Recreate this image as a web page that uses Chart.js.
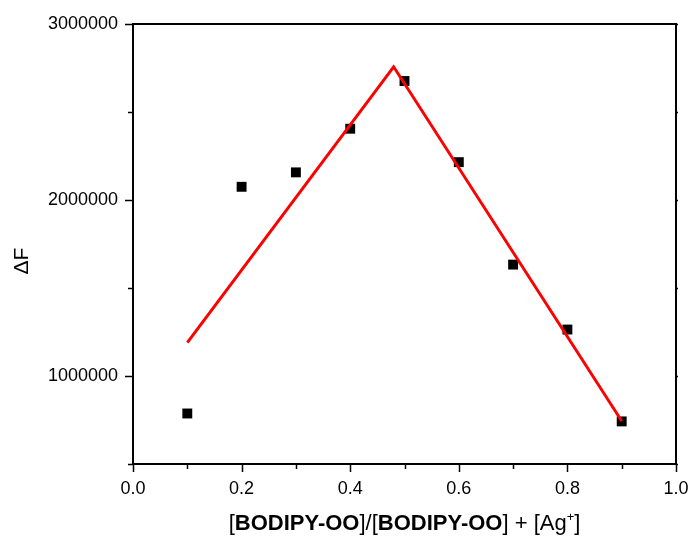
<!DOCTYPE html>
<html>
<head>
<meta charset="UTF-8">
<title>ΔF vs mole fraction</title>
<script src="https://cdn.jsdelivr.net/npm/chart.js@4.4.0/dist/chart.umd.min.js"></script>
<style>
  body { margin: 0; background: #fff; }
  canvas { display: block; }
</style>
</head>
<body>
<canvas id="job" width="691" height="538"></canvas>
<script>
// mole fraction of BODIPY-OO and the measured fluorescence change
const fractions = [0.1, 0.2, 0.3, 0.4, 0.5, 0.6, 0.7, 0.8, 0.9];
const deltaF = [787000, 2075000, 2157000, 2405000, 2676000, 2215000, 1633000, 1264000, 742000];

// two linear fits meeting near the stoichiometric point
const fitX = [0.1, 0.48, 0.9];
const fitY = [1190000, 2757000, 744000];

const xMajor = [0, 0.2, 0.4, 0.6, 0.8, 1.0];
const yMajor = [1000000, 2000000, 3000000];

const FONT = "'Liberation Sans', Arial, sans-serif";

// frame + tick marks (major/minor) drawn off the scales
const framePlugin = {
  id: 'frame',
  afterDraw(chart) {
    const { ctx, chartArea: a, scales: { x, y } } = chart;
    ctx.save();
    ctx.strokeStyle = '#000';
    ctx.lineWidth = 2;
    ctx.strokeRect(a.left, a.top, a.right - a.left, a.bottom - a.top);
    ctx.lineWidth = 1.5;
    ctx.beginPath();
    for (let i = 0; i <= 10; i++) {
      const v = i / 10;
      const px = Math.round(x.getPixelForValue(v)) + 0.5;
      const len = i % 2 === 0 ? 8 : 5;
      ctx.moveTo(px, a.bottom);
      ctx.lineTo(px, a.bottom + len);
    }
    for (let v = 500000; v <= 3000000; v += 500000) {
      const py = Math.round(y.getPixelForValue(v)) + 0.5;
      const len = v % 1000000 === 0 ? 8 : 5;
      ctx.moveTo(a.left, py);
      ctx.lineTo(a.left - len, py);
      ctx.moveTo(a.right, py);
      ctx.lineTo(a.right + 2, py);
    }
    ctx.stroke();

    // x axis title with bold compound names
    const parts = [
      ['[', false], ['BODIPY-OO', true], [']/[', false], ['BODIPY-OO', true],
      ['] + [Ag', false], ['+', false, true], [']', false]
    ];
    const fontFor = (bold, sup) => (bold ? 'bold ' : '') + (sup ? 13 : 22) + 'px ' + FONT;
    let total = 0;
    for (const [t, b, s] of parts) { ctx.font = fontFor(b, s); total += ctx.measureText(t).width; }
    let cx = (a.left + a.right) / 2 - total / 2;
    const base = 530;
    ctx.fillStyle = '#000';
    ctx.textBaseline = 'alphabetic';
    ctx.textAlign = 'left';
    for (const [t, b, s] of parts) {
      ctx.font = fontFor(b, s);
      ctx.fillText(t, cx, s ? base - 9 : base);
      cx += ctx.measureText(t).width;
    }

    // y axis title
    ctx.translate(22, 261);
    ctx.rotate(-Math.PI / 2);
    ctx.font = '21px ' + FONT;
    ctx.textAlign = 'center';
    ctx.textBaseline = 'middle';
    ctx.fillText('ΔF', 0, 0);
    ctx.restore();
  }
};

new Chart(document.getElementById('job'), {
  type: 'scatter',
  data: {
    datasets: [
      {
        label: 'fit',
        data: fitX.map((v, i) => ({ x: v, y: fitY[i] })),
        showLine: true,
        borderColor: '#ff0000',
        borderWidth: 3,
        pointRadius: 0,
      },
      {
        label: 'ΔF',
        data: fractions.map((v, i) => ({ x: v, y: deltaF[i] })),
        pointStyle: 'rect',
        pointRadius: 7,
        backgroundColor: '#000',
        borderColor: '#000',
        borderWidth: 0,
      }
    ]
  },
  options: {
    responsive: false,
    animation: false,
    devicePixelRatio: 1,
    layout: { padding: { top: 24, right: 15, left: 0, bottom: 0 } },
    plugins: { legend: { display: false }, tooltip: { enabled: false } },
    scales: {
      x: {
        type: 'linear', min: 0, max: 1,
        afterFit: s => { s.height = 74; s.paddingLeft = 0; s.paddingRight = 0; },
        afterBuildTicks: s => { s.ticks = xMajor.map(v => ({ value: v })); },
        border: { display: false },
        grid: { drawOnChartArea: false, drawTicks: true, tickLength: 8, color: 'transparent' },
        ticks: {
          padding: 6, color: '#000',
          font: { family: FONT, size: 18 },
          callback: v => v.toFixed(1)
        }
      },
      y: {
        type: 'linear', min: 500000, max: 3000000,
        afterFit: s => { s.width = 133; s.paddingTop = 0; s.paddingBottom = 0; },
        afterBuildTicks: s => { s.ticks = yMajor.map(v => ({ value: v })); },
        border: { display: false },
        grid: { drawOnChartArea: false, drawTicks: true, tickLength: 8, color: 'transparent' },
        ticks: {
          padding: 7, color: '#000',
          font: { family: FONT, size: 18 },
          callback: v => String(v)
        }
      }
    }
  },
  plugins: [framePlugin]
});
</script>
</body>
</html>
